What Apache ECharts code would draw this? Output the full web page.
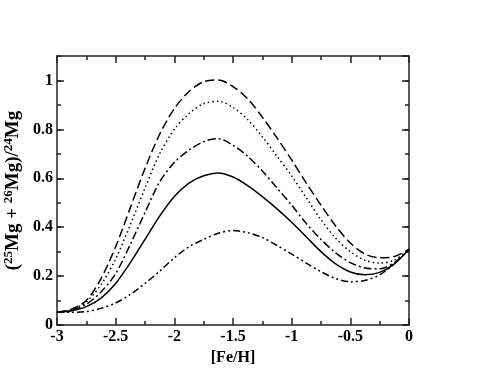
<!DOCTYPE html>
<html>
<head>
<meta charset="utf-8">
<script src="https://cdn.jsdelivr.net/npm/echarts@6/dist/echarts.min.js"></script>
<style>html,body{margin:0;padding:0;background:#fff}#c{width:491px;height:379px}</style>
</head>
<body>
<div id="c"></div>
<script>
// Data
const feH = [-3, -2.875, -2.75, -2.625, -2.5, -2.375, -2.25, -2.125, -2, -1.875, -1.75, -1.625, -1.5,
             -1.375, -1.25, -1.125, -1, -0.875, -0.75, -0.625, -0.5, -0.375, -0.25, -0.125, 0];
const yDashed = [0.052, 0.065, 0.10, 0.19, 0.32, 0.48, 0.64, 0.78, 0.885, 0.955, 0.995, 1.002, 0.975,
                 0.925, 0.85, 0.765, 0.675, 0.58, 0.49, 0.405, 0.335, 0.29, 0.275, 0.28, 0.31];
const yDotted = [0.052, 0.063, 0.095, 0.165, 0.27, 0.41, 0.56, 0.70, 0.80, 0.865, 0.905, 0.915, 0.89,
                 0.84, 0.77, 0.69, 0.61, 0.52, 0.43, 0.355, 0.30, 0.265, 0.253, 0.265, 0.31];
const yDashDot = [0.052, 0.06, 0.085, 0.135, 0.21, 0.33, 0.46, 0.585, 0.665, 0.715, 0.75, 0.762, 0.735,
                  0.69, 0.63, 0.56, 0.49, 0.415, 0.35, 0.295, 0.255, 0.233, 0.23, 0.255, 0.31];
const ySolid = [0.052, 0.058, 0.075, 0.11, 0.17, 0.255, 0.35, 0.445, 0.525, 0.58, 0.61, 0.622, 0.605,
                0.57, 0.525, 0.475, 0.42, 0.36, 0.30, 0.25, 0.217, 0.205, 0.215, 0.25, 0.31];
const yDashDotDot = [0.052, 0.052, 0.055, 0.068, 0.09, 0.125, 0.17, 0.22, 0.275, 0.32, 0.35, 0.375, 0.386,
                     0.378, 0.358, 0.325, 0.29, 0.253, 0.218, 0.19, 0.177, 0.182, 0.205, 0.25, 0.31];

const xTicks = [-3, -2.5, -2, -1.5, -1, -0.5, 0];
const yTicks = [0, 0.2, 0.4, 0.6, 0.8, 1];

const pairs = ys => feH.map((x, i) => [x, ys[i]]);
const font = 'Liberation Serif';
const axisColor = '#222';

const chart = echarts.init(document.getElementById('c'));

function xAxisDef(pos, withLabels) {
  const a = {
    type: 'value', min: -3, max: 0, interval: 0.5, position: pos, z: 3,
    axisLine: { show: true, onZero: false, lineStyle: { color: axisColor, width: 1.5 } },
    axisTick: { show: true, inside: true, length: 7, lineStyle: { color: axisColor, width: 1.5 } },
    minorTick: { show: true, splitNumber: 2, length: 4, lineStyle: { color: axisColor, width: 1.5 } },
    splitLine: { show: false }, minorSplitLine: { show: false },
    axisLabel: { show: false }
  };
  if (withLabels) {
    a.name = '[Fe/H]';
    a.nameLocation = 'middle';
    a.nameGap = 21;
    a.nameTextStyle = { fontFamily: font, fontWeight: 'bold', fontSize: 16, color: '#000' };
    a.axisLabel = { show: true, fontFamily: font, fontWeight: 'bold', fontSize: 16, color: '#000', margin: 4,
      formatter: v => (xTicks.includes(v) ? String(v) : '') };
  }
  return a;
}
function yAxisDef(pos, withLabels) {
  const a = {
    type: 'value', min: 0, max: 1.1, interval: 0.2, position: pos, z: 3,
    axisLine: { show: true, onZero: false, lineStyle: { color: axisColor, width: 1.5 } },
    axisTick: { show: true, inside: true, length: 7, lineStyle: { color: axisColor, width: 1.5 } },
    splitLine: { show: false },
    axisLabel: { show: false }
  };
  if (withLabels) {
    a.name = '({s|25}Mg + {s|26}Mg)/{s|24}Mg';
    a.nameLocation = 'middle';
    a.nameGap = 14;
    a.nameRotate = 90;
    a.nameTextStyle = { fontFamily: font, fontWeight: 'bold', fontSize: 19, color: '#000',
      rich: { s: { fontFamily: font, fontWeight: 'bold', fontSize: 13, color: '#000', verticalAlign: 'top', padding: [0, 0, 7, 0] } } };
    a.axisLabel = { show: true, fontFamily: font, fontWeight: 'bold', fontSize: 16, color: '#000', margin: 4, showMaxLabel: false,
      formatter: v => (yTicks.includes(v) ? String(v) : '') };
  }
  return a;
}
function yMinorDef(pos) {
  return {
    type: 'value', min: 0, max: 1.1, interval: 0.1, position: pos, z: 1,
    axisLine: { show: false, onZero: false },
    axisTick: { show: true, inside: true, length: 4, lineStyle: { color: axisColor, width: 1.5 } },
    axisLabel: { show: false },
    splitLine: { show: false }
  };
}

const mk = (name, ys, type) => ({
  name, type: 'line', data: pairs(ys), smooth: 0.3, showSymbol: false,
  lineStyle: { color: '#000', width: 1.5, type: type }, xAxisIndex: 0, yAxisIndex: 0, z: 5
});

chart.setOption({
  animation: false,
  grid: { left: 57, right: 82, top: 56, bottom: 54, outerBoundsMode: 'none', containLabel: false },
  xAxis: [xAxisDef('bottom', true), xAxisDef('top', false)],
  yAxis: [yAxisDef('left', true), yAxisDef('right', false), yMinorDef('left'), yMinorDef('right')],
  series: [
    mk('dashed', yDashed, [9, 4]),
    mk('dotted', yDotted, [1.5, 3]),
    mk('dashdot', yDashDot, [8, 3, 2, 3]),
    mk('solid', ySolid, 'solid'),
    mk('dashdotdot', yDashDotDot, [7, 3, 2, 3, 2, 3])
  ]
});
</script>
</body>
</html>
